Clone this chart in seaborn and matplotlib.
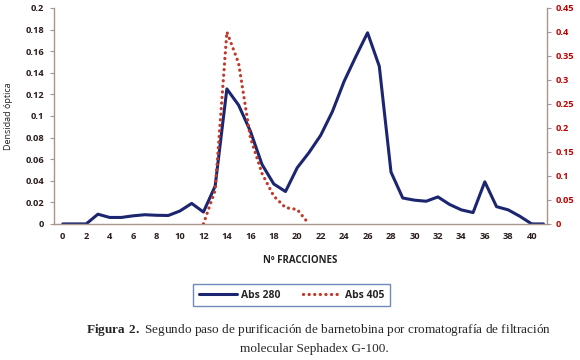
import numpy as np
import pandas as pd
import matplotlib
matplotlib.use("Agg")
import matplotlib.pyplot as plt
import seaborn as sns

# fracciones del eluido y lecturas de absorbancia
fracciones = list(range(0, 42))
abs280 = [0, 0, 0, 0.009, 0.006, 0.006, 0.0075, 0.0085, 0.008, 0.0078,
          0.012, 0.019, 0.011, 0.035, 0.125, 0.11, 0.086, 0.055, 0.037, 0.03,
          0.052, 0.066, 0.082, 0.104, 0.132, 0.155, 0.177, 0.146, 0.048, 0.024,
          0.022, 0.021, 0.025, 0.018, 0.013, 0.0105, 0.039, 0.016, 0.013, 0.007,
          0, 0]
abs405 = [None] * 12 + [0, 0.07, 0.40, 0.335, 0.18, 0.105, 0.058, 0.034, 0.03, 0] + [None] * 20
x_ticks = list(range(0, 41, 2))
left_ticks = [0, 0.02, 0.04, 0.06, 0.08, 0.1, 0.12, 0.14, 0.16, 0.18, 0.2]
right_ticks = [0, 0.05, 0.1, 0.15, 0.2, 0.25, 0.3, 0.35, 0.4, 0.45]

df = pd.DataFrame({"fraccion": fracciones, "abs280": abs280,
                   "abs405": [np.nan if v is None else v for v in abs405]})

sns.set_style("white")
plt.rcParams["font.family"] = ["Open Sans", "DejaVu Sans"]
plt.rcParams["mathtext.fontset"] = "custom"
plt.rcParams["mathtext.rm"] = "Liberation Serif"
plt.rcParams["mathtext.bf"] = "Liberation Serif:bold"

spine_col = "#a8968a"
blue = "#1c2570"
red = "#c0392b"

fig = plt.figure(figsize=(5.8, 3.6), dpi=100)
ax = fig.add_axes([0.093, 0.378, 0.850, 0.600])
ax2 = ax.twinx()

sns.lineplot(data=df, x="fraccion", y="abs280", ax=ax, color=blue,
             linewidth=2.2, label="Abs 280", legend=False)
sns.lineplot(data=df.dropna(), x="fraccion", y="abs405", ax=ax2, color=red,
             linewidth=2.3, linestyle=(0, (0.05, 1.7)), dash_capstyle="round",
             label="Abs 405", legend=False)

ax.set_xlim(-0.75, 41.3)
ax.set_ylim(0, 0.2)
ax2.set_ylim(0, 0.45)

def fmt(v):
    return ("%g" % v)

ax.set_xticks(x_ticks)
ax.set_xticklabels([str(t) for t in x_ticks], fontsize=6.7, fontweight="bold", color="#2a1c1c")
ax.set_yticks(left_ticks)
ax.set_yticklabels([fmt(t) for t in left_ticks], fontsize=6.7, fontweight="bold", color="#2a1c1c")
ax2.set_yticks(right_ticks)
ax2.set_yticklabels([fmt(t) for t in right_ticks], fontsize=6.7, fontweight="bold", color="#c00000")

ax.tick_params(axis="x", length=0, pad=6)
ax.tick_params(axis="y", length=3, width=0.8, color=spine_col, direction="out", pad=4, left=True)
ax2.tick_params(axis="y", length=3, width=0.8, color=spine_col, direction="out", pad=3, right=True)

for a in (ax, ax2):
    a.spines["top"].set_visible(False)
    for s in ("left", "right", "bottom"):
        a.spines[s].set_color(spine_col)
        a.spines[s].set_linewidth(1.0)
ax2.spines["left"].set_visible(False)
ax2.spines["bottom"].set_visible(False)
ax.spines["right"].set_visible(False)

ax.set_xlabel("Nº FRACCIONES", fontsize=7, fontweight="bold", color="#222222", labelpad=10)
ax.set_ylabel("Densidad óptica", fontsize=6.5, color="#222222", labelpad=9)
ax2.set_ylabel("")
ax.grid(False)
ax2.grid(False)

handles = [ax.get_lines()[0], ax2.get_lines()[0]]
leg = fig.legend(handles, ["Abs 280", "Abs 405"], loc="center",
                 bbox_to_anchor=(0.503, 1 - 295 / 360), ncol=2, frameon=True,
                 fancybox=False, prop={"weight": "bold", "size": 7.5},
                 handlelength=3.6, columnspacing=2.2, borderpad=0.55,
                 handletextpad=0.4, borderaxespad=0)
leg.get_frame().set_edgecolor("#4a6fa5")
leg.get_frame().set_linewidth(1.0)

fig.text(0.550, 1 - 330 / 360,
         r"$\mathbf{Figura\ 2.}$ Segundo paso de purificación de barnetobina por cromatografía de filtración",
         ha="center", va="center", fontsize=9.5, family="Liberation Serif")
fig.text(0.542, 1 - 349 / 360, "molecular Sephadex G-100.",
         ha="center", va="center", fontsize=9.5, family="Liberation Serif")

fig.savefig("out.png", dpi=100)
